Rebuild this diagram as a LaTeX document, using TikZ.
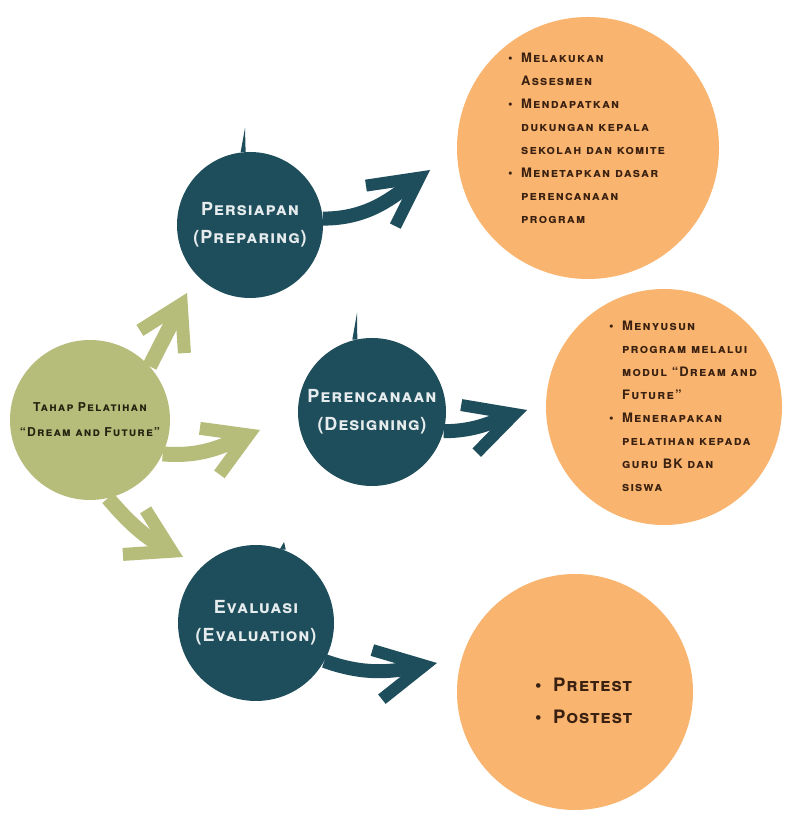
\documentclass[tikz,border=0pt]{standalone}
\usepackage{fontspec}
\setmainfont{TeX Gyre Heros}
\newfontfamily\stagefont{TeX Gyre Heros}[Letters=SmallCaps, LetterSpace=5]
\newfontfamily\listfont{TeX Gyre Heros}[Letters=SmallCaps, LetterSpace=9]
\usetikzlibrary{arrows.meta, positioning}

\definecolor{tealdark}{HTML}{1E4E5B}
\definecolor{olivelight}{HTML}{B6BD7B}
\definecolor{peach}{HTML}{F9B46F}
\definecolor{browntext}{HTML}{3A2010}
\definecolor{paletext}{HTML}{E6ECEE}
\definecolor{darktext}{HTML}{23230F}

\newcommand{\bul}{\makebox[13pt][l]{\textbullet}}
\newcommand{\ind}{\hspace*{13pt}}

\tikzset{
  stage/.style={circle, fill=tealdark, inner sep=0pt, minimum size=146pt,
    text=paletext, align=center,
    font=\stagefont\bfseries\fontsize{18}{28}\selectfont},
  mainstage/.style={circle, fill=olivelight, inner sep=0pt, minimum size=160pt,
    text=darktext, align=center,
    font=\listfont\bfseries\fontsize{12.2}{25}\selectfont},
  detail/.style={circle, fill=peach, inner sep=0pt},
  listtext/.style={align=left, text=browntext, inner sep=0pt,
    font=\listfont\bfseries\fontsize{13}{23}\selectfont},
  darkarrow/.style={draw=tealdark, line width=14pt,
    -{Straight Barb[length=48pt, width=50pt, line width=12pt]}},
  greenarrow/.style={draw=olivelight, line width=15pt,
    -{Straight Barb[length=42pt, width=50pt, line width=13pt]}}
}

\begin{document}
\begin{tikzpicture}[x=1pt, y=1pt]
\useasboundingbox (0,0) rectangle (784,824);
\fill[white] (0,0) rectangle (784,824);

% orange detail circles
\node[detail, minimum size=262pt] (prepDetail) at (588,676) {};
\node[detail, minimum size=236pt] (designDetail) at (664,417) {};
\node[detail, minimum size=236pt] (evalDetail) at (575,132) {};

% main circle and stages
\node[mainstage] (main) at (90,404) {Tahap Pelatihan\\“Dream and Future”};
\node[stage] (prep) at (250,599) {Persiapan\\(Preparing)};
\node[stage, minimum size=148pt] (design) at (372,412) {Perencanaan\\(Designing)};
\node[stage, minimum size=156pt] (evalu) at (256,201) {Evaluasi\\(Evaluation)};

% small stems on top
\coordinate (prepStem) at (245,696);
\coordinate (designStem) at (357,511);
\coordinate (evalStem) at (284,282);
\fill[tealdark] ([xshift=-3pt]prep.95) -- (prepStem) -- ([xshift=2pt]prep.95) -- cycle;
\fill[tealdark] ([xshift=-3pt]design.103) -- (designStem) -- ([xshift=2pt]design.103) -- cycle;
\fill[tealdark] ([xshift=-3pt]evalu.70) -- (evalStem) -- ([xshift=3pt]evalu.70) -- cycle;

% green arrows
\coordinate (upTip) at (187,531);
\coordinate (rightTip) at (260,394);
\coordinate (downTip) at (183,267);
\draw[greenarrow] (main.42) to[out=63, in=243] (upTip);
\draw[greenarrow] (main.-25) to[out=-5, in=203] (rightTip);
\draw[greenarrow] (main.-77) to[out=-50, in=153] (downTip);

% dark arrows
\coordinate (prepTip) at (430,654);
\coordinate (designTip) at (527,414);
\coordinate (evalTip) at (437,161);
\draw[darkarrow] (prep.5) to[out=0, in=216] (prepTip);
\draw[darkarrow] (design.-15) to[out=0, in=198] (designTip);
\draw[darkarrow] (evalu.-29) to[out=-20, in=191] (evalTip);

% lists
\node[listtext, anchor=west] (prepList) at (508,686) {%
\bul Melakukan\\ \ind Assesmen\\
\bul Mendapatkan\\ \ind dukungan kepala\\ \ind sekolah dan komite\\
\bul Menetapkan dasar\\ \ind perencanaan\\ \ind program};
\node[listtext, anchor=west] (designList) at (609,418) {%
\bul Menyusun\\ \ind program melalui\\ \ind modul “Dream and\\ \ind Future”\\
\bul Menerapakan\\ \ind pelatihan kepada\\ \ind guru BK dan\\ \ind siswa};
\node[listtext, anchor=west, font=\stagefont\bfseries\fontsize{18.5}{32}\selectfont]
  (evalList) at (535,123) {\makebox[18pt][l]{\textbullet}Pretest\\
  \makebox[18pt][l]{\textbullet}Postest};
\end{tikzpicture}
\end{document}
